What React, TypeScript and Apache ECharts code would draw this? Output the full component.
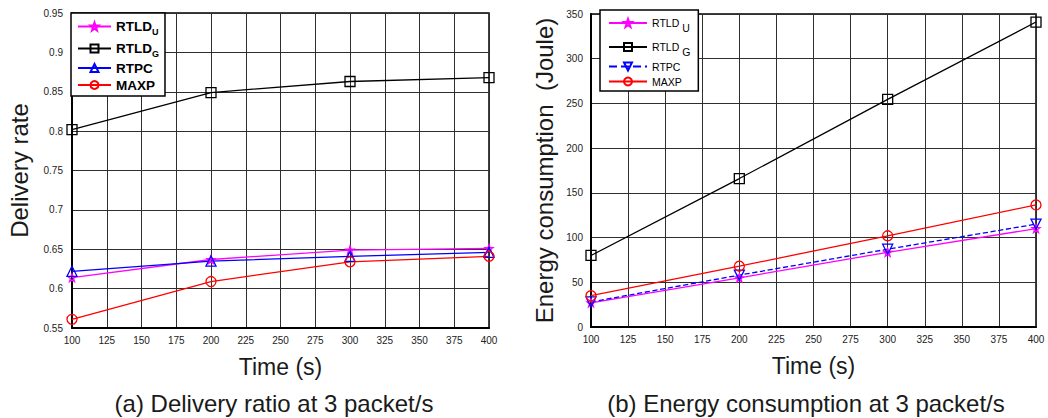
import React, { useEffect, useRef } from "react";
import * as echarts from "echarts";

const timeValues = [100, 200, 300, 400];

const deliveryRTLDU = [0.614, 0.637, 0.649, 0.651];
const deliveryRTLDG = [0.802, 0.849, 0.863, 0.868];
const deliveryRTPC = [0.622, 0.635, 0.641, 0.646];
const deliveryMAXP = [0.561, 0.609, 0.634, 0.641];

const energyRTLDU = [27, 55, 83.5, 110];
const energyRTLDG = [80, 166, 254.5, 341];
const energyRTPC = [28, 58, 87, 115];
const energyMAXP = [35, 68, 102, 136.5];

const captionA = "(a) Delivery ratio at 3 packet/s";
const captionB = "(b) Energy consumption at 3 packet/s";

const FONT = "'Liberation Sans', Arial, sans-serif";
const STAR =
  "path://M0,-10L2.35,-3.24L9.51,-3.09L3.8,1.24L5.88,8.09L0,4L-5.88,8.09L-3.8,1.24L-9.51,-3.09L-2.35,-3.24Z";

const toPairs = (vals: number[]) => timeValues.map((t, i) => [t, vals[i]]);

function mkSeries(
  name: string,
  idx: number,
  vals: number[],
  color: string,
  symbol: string,
  size: number,
  opts: any = {}
) {
  return {
    name,
    type: "line",
    xAxisIndex: idx,
    yAxisIndex: idx,
    data: toPairs(vals),
    symbol,
    symbolSize: size,
    symbolRotate: opts.rotate || 0,
    showSymbol: true,
    lineStyle: { color, width: 1.3, type: opts.dashed ? "dashed" : "solid" },
    itemStyle: { color: "rgba(255,255,255,0)", borderColor: color, borderWidth: 1.3 },
    emphasis: { disabled: true },
    z: opts.z || 3,
  };
}

const legendLabels: Record<string, string> = {
  aU: "{b|RTLD}{bs|U}",
  aG: "{b|RTLD}{bs|G}",
  aP: "{b|RTPC}",
  aM: "{b|MAXP}",
  bU: "{n|RTLD }{ns|U}",
  bG: "{n|RTLD }{ns|G}",
  bP: "{n|RTPC}",
  bM: "{n|MAXP}",
};

export default function App() {
  const ref = useRef<HTMLDivElement>(null);
  useEffect(() => {
    if (!ref.current) return;
    const chart = echarts.init(ref.current, undefined, { renderer: "svg" });
    const axisLabel = { fontSize: 10, color: "#222", fontFamily: FONT };
    const splitLine = { show: true, lineStyle: { color: "#2e2e2e", width: 1 } };
    const xAxisBase = {
      type: "value",
      min: 100,
      max: 400,
      interval: 25,
      axisLine: { show: true, lineStyle: { color: "#000", width: 2 } },
      axisTick: { show: false },
      axisLabel: { ...axisLabel, margin: 7 },
      splitLine,
      name: "Time (s)",
      nameLocation: "middle",
      nameGap: 27,
      nameTextStyle: { fontSize: 23, color: "#1a1a1a", fontFamily: FONT },
    };
    const option: any = {
      animation: false,
      backgroundColor: "#fff",
      textStyle: { fontFamily: FONT },
      grid: [
        { left: 72, top: 13, width: 417, height: 315, show: true, borderColor: "#000", borderWidth: 1.5, backgroundColor: "transparent" },
        { left: 591, top: 14, width: 445, height: 313, show: true, borderColor: "#000", borderWidth: 1.5, backgroundColor: "transparent" },
      ],
      xAxis: [
        { ...xAxisBase, gridIndex: 0 },
        { ...xAxisBase, gridIndex: 1 },
      ],
      yAxis: [
        {
          type: "value",
          gridIndex: 0,
          min: 0.55,
          max: 0.95,
          interval: 0.05,
          axisLine: { show: true, lineStyle: { color: "#000", width: 2 } },
          axisTick: { show: false },
          axisLabel: { ...axisLabel, margin: 9, formatter: (v: number) => String(Math.round(v * 100) / 100) },
          splitLine,
          name: "Delivery rate",
          nameLocation: "middle",
          nameGap: 41,
          nameTextStyle: { fontSize: 24, color: "#1a1a1a", fontFamily: FONT },
        },
        {
          type: "value",
          gridIndex: 1,
          min: 0,
          max: 350,
          interval: 50,
          axisLine: { show: true, lineStyle: { color: "#000", width: 2 } },
          axisTick: { show: false },
          axisLabel: { ...axisLabel, margin: 8 },
          splitLine,
          name: "Energy consumption  (Joule)",
          nameLocation: "middle",
          nameGap: 35,
          nameTextStyle: { fontSize: 24, color: "#1a1a1a", fontFamily: FONT },
        },
      ],
      legend: [
        {
          data: ["aU", "aG", "aP", "aM"],
          orient: "vertical",
          left: 71,
          top: 13,
          padding: [4, 6, 4, 6],
          itemGap: 3,
          itemWidth: 33,
          itemHeight: 10,
          borderColor: "#000",
          borderWidth: 1.5,
          backgroundColor: "#fff",
          selectedMode: false,
          formatter: (n: string) => legendLabels[n],
          textStyle: {
            rich: {
              b: { fontSize: 13.5, fontWeight: "bold", color: "#000", fontFamily: FONT, lineHeight: 20 },
              bs: { fontSize: 9, fontWeight: "bold", color: "#000", fontFamily: FONT, padding: [10, 0, 0, 0], lineHeight: 20 },
            },
          },
        },
        {
          data: ["bU", "bG", "bP", "bM"],
          orient: "vertical",
          left: 600,
          top: 10,
          padding: [3, 8, 4, 8],
          itemGap: 4,
          itemWidth: 38,
          itemHeight: 10,
          borderColor: "#000",
          borderWidth: 1.5,
          backgroundColor: "#fff",
          selectedMode: false,
          formatter: (n: string) => legendLabels[n],
          textStyle: {
            rich: {
              n: { fontSize: 10.5, color: "#000", fontFamily: FONT, lineHeight: 18 },
              ns: { fontSize: 10.5, color: "#000", fontFamily: FONT, padding: [9, 0, 0, 0], lineHeight: 16 },
            },
          },
        },
      ],
      graphic: [
        { type: "text", x: 274, y: 391, style: { text: captionA, fontSize: 24, fill: "#1a1a1a", fontFamily: FONT, align: "center", verticalAlign: "top" } },
        { type: "text", x: 806, y: 391, style: { text: captionB, fontSize: 24, fill: "#1a1a1a", fontFamily: FONT, align: "center", verticalAlign: "top" } },
      ],
      series: [
        mkSeries("aU", 0, deliveryRTLDU, "#ff00ff", STAR, 8),
        mkSeries("aG", 0, deliveryRTLDG, "#000000", "rect", 10),
        mkSeries("aP", 0, deliveryRTPC, "#0000ff", "triangle", 10),
        mkSeries("aM", 0, deliveryMAXP, "#ff0000", "circle", 10),
        mkSeries("bU", 1, energyRTLDU, "#ff00ff", STAR, 8),
        mkSeries("bG", 1, energyRTLDG, "#000000", "rect", 10),
        mkSeries("bP", 1, energyRTPC, "#0000ff", "triangle", 10, { rotate: 180, dashed: true }),
        mkSeries("bM", 1, energyMAXP, "#ff0000", "circle", 10),
      ],
    };
    chart.setOption(option);
    return () => chart.dispose();
  }, []);
  return (
    <div
      ref={ref}
      style={{ position: "fixed", left: 0, top: 0, width: 1048, height: 418 }}
    />
  );
}
